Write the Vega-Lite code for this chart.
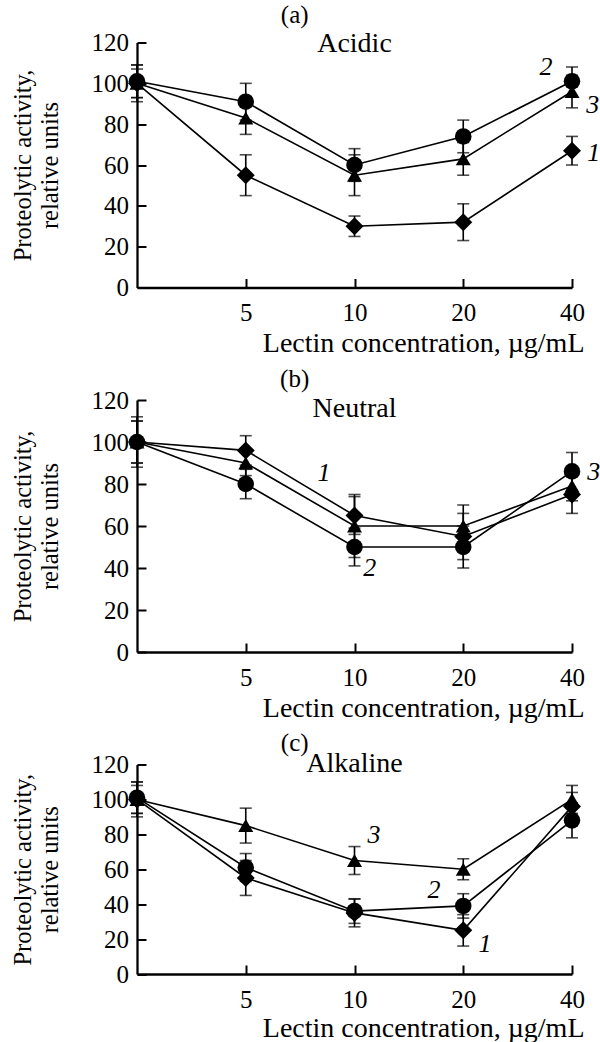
{
  "$schema": "https://vega.github.io/schema/vega-lite/v6.json",
  "autosize": {"type": "none"},
  "padding": {"left": 137, "top": 42.5, "right": 463, "bottom": 999.5},
  "background": "white",
  "config": {
    "font": "Liberation Serif",
    "view": {"stroke": null},
    "axis": {
      "domainColor": "black", "domainWidth": 2.3,
      "tickColor": "black", "tickWidth": 2, "tickSize": -9,
      "grid": false,
      "labelFont": "Liberation Serif", "labelColor": "black", "labelFontSize": 25,
      "titleFont": "Liberation Serif", "titleFontWeight": "normal", "titleColor": "black"
    }
  },
  "datasets": {
    "obs": [
      {"panel": "a", "series": "1", "conc": 0, "step": 0, "activity": 100, "err": 9},
      {"panel": "a", "series": "1", "conc": 5, "step": 1, "activity": 55, "err": 10},
      {"panel": "a", "series": "1", "conc": 10, "step": 2, "activity": 30, "err": 5},
      {"panel": "a", "series": "1", "conc": 20, "step": 3, "activity": 32, "err": 9},
      {"panel": "a", "series": "1", "conc": 40, "step": 4, "activity": 67, "err": 7},
      {"panel": "a", "series": "2", "conc": 0, "step": 0, "activity": 101, "err": 8},
      {"panel": "a", "series": "2", "conc": 5, "step": 1, "activity": 91, "err": 9},
      {"panel": "a", "series": "2", "conc": 10, "step": 2, "activity": 60, "err": 8},
      {"panel": "a", "series": "2", "conc": 20, "step": 3, "activity": 74, "err": 8},
      {"panel": "a", "series": "2", "conc": 40, "step": 4, "activity": 101, "err": 7},
      {"panel": "a", "series": "3", "conc": 0, "step": 0, "activity": 100, "err": 7},
      {"panel": "a", "series": "3", "conc": 5, "step": 1, "activity": 83, "err": 8},
      {"panel": "a", "series": "3", "conc": 10, "step": 2, "activity": 55, "err": 10},
      {"panel": "a", "series": "3", "conc": 20, "step": 3, "activity": 63, "err": 8},
      {"panel": "a", "series": "3", "conc": 40, "step": 4, "activity": 96, "err": 8},
      {"panel": "b", "series": "1", "conc": 0, "step": 0, "activity": 100, "err": 12},
      {"panel": "b", "series": "1", "conc": 5, "step": 1, "activity": 96, "err": 7},
      {"panel": "b", "series": "1", "conc": 10, "step": 2, "activity": 65, "err": 9},
      {"panel": "b", "series": "1", "conc": 20, "step": 3, "activity": 55, "err": 11},
      {"panel": "b", "series": "1", "conc": 40, "step": 4, "activity": 75, "err": 9},
      {"panel": "b", "series": "2", "conc": 0, "step": 0, "activity": 100, "err": 10},
      {"panel": "b", "series": "2", "conc": 5, "step": 1, "activity": 80, "err": 7},
      {"panel": "b", "series": "2", "conc": 10, "step": 2, "activity": 50, "err": 9},
      {"panel": "b", "series": "2", "conc": 20, "step": 3, "activity": 50, "err": 10},
      {"panel": "b", "series": "2", "conc": 40, "step": 4, "activity": 86, "err": 9},
      {"panel": "b", "series": "3", "conc": 0, "step": 0, "activity": 100, "err": 10},
      {"panel": "b", "series": "3", "conc": 5, "step": 1, "activity": 90, "err": 6},
      {"panel": "b", "series": "3", "conc": 10, "step": 2, "activity": 60, "err": 15},
      {"panel": "b", "series": "3", "conc": 20, "step": 3, "activity": 60, "err": 10},
      {"panel": "b", "series": "3", "conc": 40, "step": 4, "activity": 79, "err": 7},
      {"panel": "c", "series": "1", "conc": 0, "step": 0, "activity": 100, "err": 10},
      {"panel": "c", "series": "1", "conc": 5, "step": 1, "activity": 55, "err": 10},
      {"panel": "c", "series": "1", "conc": 10, "step": 2, "activity": 35, "err": 8},
      {"panel": "c", "series": "1", "conc": 20, "step": 3, "activity": 25, "err": 9},
      {"panel": "c", "series": "1", "conc": 40, "step": 4, "activity": 96, "err": 8},
      {"panel": "c", "series": "2", "conc": 0, "step": 0, "activity": 101, "err": 9},
      {"panel": "c", "series": "2", "conc": 5, "step": 1, "activity": 61, "err": 8},
      {"panel": "c", "series": "2", "conc": 10, "step": 2, "activity": 36, "err": 7},
      {"panel": "c", "series": "2", "conc": 20, "step": 3, "activity": 39, "err": 7},
      {"panel": "c", "series": "2", "conc": 40, "step": 4, "activity": 88, "err": 10},
      {"panel": "c", "series": "3", "conc": 0, "step": 0, "activity": 100, "err": 8},
      {"panel": "c", "series": "3", "conc": 5, "step": 1, "activity": 85, "err": 10},
      {"panel": "c", "series": "3", "conc": 10, "step": 2, "activity": 65, "err": 8},
      {"panel": "c", "series": "3", "conc": 20, "step": 3, "activity": 60, "err": 6},
      {"panel": "c", "series": "3", "conc": 40, "step": 4, "activity": 100, "err": 8}
    ],
    "notes": [
      {"panel": "a", "label": "2", "step": 3.76, "activity": 108.2},
      {"panel": "a", "label": "3", "step": 4.19, "activity": 89.5},
      {"panel": "a", "label": "1", "step": 4.2, "activity": 65.8},
      {"panel": "b", "label": "1", "step": 1.72, "activity": 85.4},
      {"panel": "b", "label": "2", "step": 2.14, "activity": 40.1},
      {"panel": "b", "label": "3", "step": 4.2, "activity": 85.9},
      {"panel": "c", "label": "3", "step": 2.18, "activity": 79.4},
      {"panel": "c", "label": "2", "step": 2.73, "activity": 47.9},
      {"panel": "c", "label": "1", "step": 3.2, "activity": 17.3}
    ],
    "names": [
      {"panel": "a", "label": "Acidic", "step": 2, "activity": 119.4},
      {"panel": "b", "label": "Neutral", "step": 2, "activity": 115.5},
      {"panel": "c", "label": "Alkaline", "step": 2, "activity": 120.5}
    ],
    "letters": [
      {"panel": "a", "label": "(a)", "step": 1.45, "activity": 133.5},
      {"panel": "b", "label": "(b)", "step": 1.45, "activity": 129.9},
      {"panel": "c", "label": "(c)", "step": 1.45, "activity": 132.6}
    ]
  },
  "spacing": 112.5,
  "bounds": "flush",
  "vconcat": [
    {
      "width": 435, "height": 245,
      "encoding": {
        "x": {"field": "step", "type": "quantitative", "scale": {"domain": [0, 4], "nice": false},
          "axis": {"values": [1, 2, 3, 4], "labelExpr": "['0','5','10','20','40'][datum.value]", "labelBaseline": "alphabetic", "labelPadding": 42, "labelFlush": false,
            "title": "Lectin concentration, µg/mL", "titleFontSize": 28, "titleX": 447, "titleY": 64, "titleAlign": "right", "titleBaseline": "alphabetic"}},
        "y": {"field": "activity", "type": "quantitative", "scale": {"domain": [0, 120], "nice": false},
          "axis": {"values": [0, 20, 40, 60, 80, 100, 120], "labelPadding": 17.5,
            "title": ["Proteolytic activity,", "relative units"], "titleFontSize": 24.5, "titleLineHeight": 27, "titleX": -113.5, "titleBaseline": "middle"}}
      },
      "layer": [
        {"data": {"name": "obs"}, "transform": [{"filter": "datum.panel == 'a'"}],
          "mark": {"type": "errorbar", "color": "black", "ticks": {"size": 12, "thickness": 1.6, "color": "black"}, "rule": {"strokeWidth": 1.6, "color": "black"}},
          "encoding": {"yError": {"field": "err"}}},
        {"data": {"name": "obs"}, "transform": [{"filter": "datum.panel == 'a'"}],
          "mark": {"type": "line", "color": "black", "strokeWidth": 1.6},
          "encoding": {"detail": {"field": "series", "type": "nominal"}}},
        {"data": {"name": "obs"}, "transform": [{"filter": "datum.panel == 'a'"}],
          "mark": {"type": "point", "filled": true, "color": "black", "opacity": 1},
          "encoding": {
            "shape": {"field": "series", "type": "nominal", "scale": {"domain": ["1", "2", "3"], "range": ["diamond", "circle", "triangle-up"]}, "legend": null},
            "size": {"field": "series", "type": "ordinal", "scale": {"domain": ["1", "2", "3"], "range": [324, 225, 256]}, "legend": null}}},
        {"data": {"name": "notes"}, "transform": [{"filter": "datum.panel == 'a'"}],
          "mark": {"type": "text", "fontSize": 26, "fontStyle": "italic", "font": "Liberation Serif", "color": "black", "align": "center", "baseline": "middle"},
          "encoding": {"text": {"field": "label"}}},
        {"data": {"name": "names"}, "transform": [{"filter": "datum.panel == 'a'"}],
          "mark": {"type": "text", "fontSize": 28, "font": "Liberation Serif", "color": "black", "align": "center", "baseline": "middle"},
          "encoding": {"text": {"field": "label"}}},
        {"data": {"name": "letters"}, "transform": [{"filter": "datum.panel == 'a'"}],
          "mark": {"type": "text", "fontSize": 25, "font": "Liberation Serif", "color": "black", "align": "center", "baseline": "middle"},
          "encoding": {"text": {"field": "label"}}}
      ]
    },
    {
      "width": 435, "height": 252,
      "encoding": {
        "x": {"field": "step", "type": "quantitative", "scale": {"domain": [0, 4], "nice": false},
          "axis": {"values": [1, 2, 3, 4], "labelExpr": "['0','5','10','20','40'][datum.value]", "labelBaseline": "alphabetic", "labelPadding": 42, "labelFlush": false,
            "title": "Lectin concentration, µg/mL", "titleFontSize": 28, "titleX": 447, "titleY": 64, "titleAlign": "right", "titleBaseline": "alphabetic"}},
        "y": {"field": "activity", "type": "quantitative", "scale": {"domain": [0, 120], "nice": false},
          "axis": {"values": [0, 20, 40, 60, 80, 100, 120], "labelPadding": 17.5,
            "title": ["Proteolytic activity,", "relative units"], "titleFontSize": 24.5, "titleLineHeight": 27, "titleX": -113.5, "titleBaseline": "middle"}}
      },
      "layer": [
        {"data": {"name": "obs"}, "transform": [{"filter": "datum.panel == 'b'"}],
          "mark": {"type": "errorbar", "color": "black", "ticks": {"size": 12, "thickness": 1.6, "color": "black"}, "rule": {"strokeWidth": 1.6, "color": "black"}},
          "encoding": {"yError": {"field": "err"}}},
        {"data": {"name": "obs"}, "transform": [{"filter": "datum.panel == 'b'"}],
          "mark": {"type": "line", "color": "black", "strokeWidth": 1.6},
          "encoding": {"detail": {"field": "series", "type": "nominal"}}},
        {"data": {"name": "obs"}, "transform": [{"filter": "datum.panel == 'b'"}],
          "mark": {"type": "point", "filled": true, "color": "black", "opacity": 1},
          "encoding": {
            "shape": {"field": "series", "type": "nominal", "scale": {"domain": ["1", "2", "3"], "range": ["diamond", "circle", "triangle-up"]}, "legend": null},
            "size": {"field": "series", "type": "ordinal", "scale": {"domain": ["1", "2", "3"], "range": [324, 225, 256]}, "legend": null}}},
        {"data": {"name": "notes"}, "transform": [{"filter": "datum.panel == 'b'"}],
          "mark": {"type": "text", "fontSize": 26, "fontStyle": "italic", "font": "Liberation Serif", "color": "black", "align": "center", "baseline": "middle"},
          "encoding": {"text": {"field": "label"}}},
        {"data": {"name": "names"}, "transform": [{"filter": "datum.panel == 'b'"}],
          "mark": {"type": "text", "fontSize": 28, "font": "Liberation Serif", "color": "black", "align": "center", "baseline": "middle"},
          "encoding": {"text": {"field": "label"}}},
        {"data": {"name": "letters"}, "transform": [{"filter": "datum.panel == 'b'"}],
          "mark": {"type": "text", "fontSize": 25, "font": "Liberation Serif", "color": "black", "align": "center", "baseline": "middle"},
          "encoding": {"text": {"field": "label"}}}
      ]
    },
    {
      "width": 435, "height": 209.5,
      "encoding": {
        "x": {"field": "step", "type": "quantitative", "scale": {"domain": [0, 4], "nice": false},
          "axis": {"values": [1, 2, 3, 4], "labelExpr": "['0','5','10','20','40'][datum.value]", "labelBaseline": "alphabetic", "labelPadding": 42, "labelFlush": false,
            "title": "Lectin concentration, µg/mL", "titleFontSize": 28, "titleX": 447, "titleY": 62.5, "titleAlign": "right", "titleBaseline": "alphabetic"}},
        "y": {"field": "activity", "type": "quantitative", "scale": {"domain": [0, 120], "nice": false},
          "axis": {"values": [0, 20, 40, 60, 80, 100, 120], "labelPadding": 17.5,
            "title": ["Proteolytic activity,", "relative units"], "titleFontSize": 24.5, "titleLineHeight": 27, "titleX": -113.5, "titleBaseline": "middle"}}
      },
      "layer": [
        {"data": {"name": "obs"}, "transform": [{"filter": "datum.panel == 'c'"}],
          "mark": {"type": "errorbar", "color": "black", "ticks": {"size": 12, "thickness": 1.6, "color": "black"}, "rule": {"strokeWidth": 1.6, "color": "black"}},
          "encoding": {"yError": {"field": "err"}}},
        {"data": {"name": "obs"}, "transform": [{"filter": "datum.panel == 'c'"}],
          "mark": {"type": "line", "color": "black", "strokeWidth": 1.6},
          "encoding": {"detail": {"field": "series", "type": "nominal"}}},
        {"data": {"name": "obs"}, "transform": [{"filter": "datum.panel == 'c'"}],
          "mark": {"type": "point", "filled": true, "color": "black", "opacity": 1},
          "encoding": {
            "shape": {"field": "series", "type": "nominal", "scale": {"domain": ["1", "2", "3"], "range": ["diamond", "circle", "triangle-up"]}, "legend": null},
            "size": {"field": "series", "type": "ordinal", "scale": {"domain": ["1", "2", "3"], "range": [324, 225, 256]}, "legend": null}}},
        {"data": {"name": "notes"}, "transform": [{"filter": "datum.panel == 'c'"}],
          "mark": {"type": "text", "fontSize": 26, "fontStyle": "italic", "font": "Liberation Serif", "color": "black", "align": "center", "baseline": "middle"},
          "encoding": {"text": {"field": "label"}}},
        {"data": {"name": "names"}, "transform": [{"filter": "datum.panel == 'c'"}],
          "mark": {"type": "text", "fontSize": 28, "font": "Liberation Serif", "color": "black", "align": "center", "baseline": "middle"},
          "encoding": {"text": {"field": "label"}}},
        {"data": {"name": "letters"}, "transform": [{"filter": "datum.panel == 'c'"}],
          "mark": {"type": "text", "fontSize": 25, "font": "Liberation Serif", "color": "black", "align": "center", "baseline": "middle"},
          "encoding": {"text": {"field": "label"}}}
      ]
    }
  ]
}
